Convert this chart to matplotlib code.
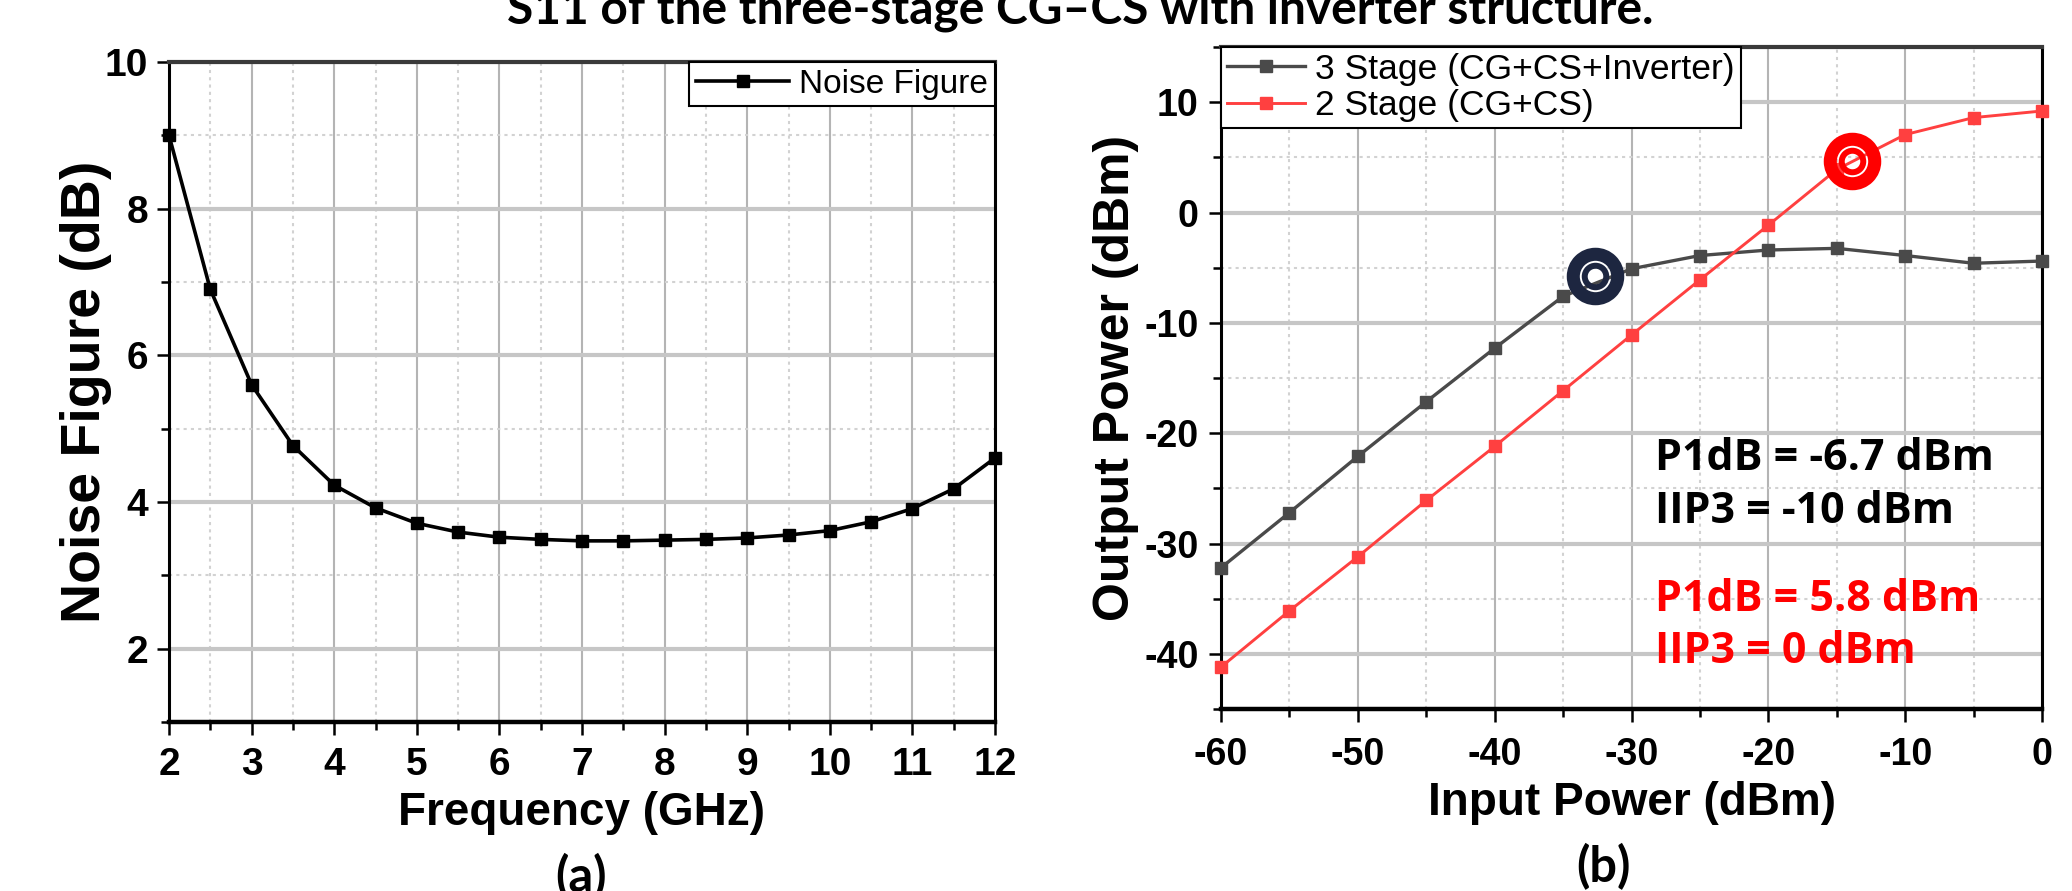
import matplotlib
matplotlib.use("Agg")
import matplotlib.pyplot as plt
from matplotlib.ticker import MultipleLocator

plt.rcParams["axes.unicode_minus"] = False

# ---------------- data ----------------
freq_ghz = [2, 2.5, 3, 3.5, 4, 4.5, 5, 5.5, 6, 6.5, 7, 7.5, 8, 8.5, 9, 9.5, 10, 10.5, 11, 11.5, 12]
noise_figure = [9.0, 6.9, 5.6, 4.77, 4.23, 3.92, 3.71, 3.59, 3.52, 3.49, 3.47, 3.47, 3.48, 3.49,
                3.51, 3.55, 3.61, 3.73, 3.91, 4.18, 4.60]

pin_dbm = [-60, -55, -50, -45, -40, -35, -30, -25, -20, -15, -10, -5, 0]
pout_3stage = [-32.2, -27.2, -22.1, -17.15, -12.3, -7.6, -5.1, -3.9, -3.4, -3.25, -3.9, -4.6, -4.4]
pout_2stage = [-41.2, -36.1, -31.2, -26.1, -21.2, -16.15, -11.1, -6.1, -1.15, 3.9, 7.06, 8.6, 9.2]

p1db_3stage = (-32.7, -5.8)
p1db_2stage = (-13.9, 4.7)

label_nf = "Noise Figure"
label_3 = "3 Stage (CG+CS+Inverter)"
label_2 = "2 Stage (CG+CS)"
ann_black = ["P1dB = -6.7 dBm", "IIP3 = -10 dBm"]
ann_red = ["P1dB = 5.8 dBm", "IIP3 = 0 dBm"]
title_text = "S11 of the three-stage CG\u2013CS with inverter structure."

# ---------------- style ----------------
W, H = 2072, 891
fig = plt.figure(figsize=(W / 100, H / 100), dpi=100)

FAM = ["Liberation Sans", "DejaVu Sans"]
BOLD = dict(family=FAM, weight="bold")

def style_axes(ax, tickfont):
    ax.set_axisbelow(True)
    ax.grid(which="major", axis="x", color="#b4b4b4", lw=1.5, ls="-")
    ax.grid(which="major", axis="y", color="#c6c6c6", lw=3.0, ls="-")
    ax.grid(which="minor", axis="both", color="#d2d2d2", lw=1.5, ls=(0, (1.5, 2.0)))
    for s in ax.spines.values():
        s.set_linewidth(2.2)
        s.set_color("black")
    ax.spines["bottom"].set_linewidth(3.2)
    ax.spines["top"].set_color("#3a3a3a")
    ax.spines["top"].set_linewidth(3.0)
    ax.tick_params(which="major", direction="out", length=9, width=1.8,
                   top=False, right=False)
    ax.tick_params(which="minor", direction="out", length=5.5, width=1.8,
                   top=False, right=False)
    for lab in ax.get_xticklabels() + ax.get_yticklabels():
        lab.set_fontfamily(FAM)
        lab.set_fontweight("bold")
        lab.set_fontsize(tickfont)

# ---------------- left panel ----------------
ax1 = fig.add_axes([169 / W, 1 - 722 / H, (995 - 169) / W, (722 - 62) / H])
ax1.plot(freq_ghz, noise_figure, color="black", lw=2.6, marker="s", ms=9,
         label=label_nf, zorder=3, clip_on=False)
ax1.set_xlim(2, 12)
ax1.set_ylim(1, 10)
ax1.xaxis.set_major_locator(MultipleLocator(1))
ax1.xaxis.set_minor_locator(MultipleLocator(0.5))
ax1.set_yticks([2, 4, 6, 8, 10])
ax1.yaxis.set_minor_locator(MultipleLocator(1))
style_axes(ax1, 28)
ax1.tick_params(axis="x", which="major", pad=9)
ax1.tick_params(axis="y", which="major", pad=6)
ax1.set_xlabel("Frequency (GHz)", fontsize=33, labelpad=6, **BOLD)
ax1.set_ylabel("Noise Figure (dB)", fontsize=40, labelpad=-5, **BOLD)
leg1 = ax1.legend(loc="upper right", borderaxespad=0, fancybox=False, framealpha=1,
                  edgecolor="black", prop=dict(family=FAM, size=24),
                  handlelength=2.8, handletextpad=0.3, borderpad=0.2)
leg1.get_frame().set_linewidth(1.5)

# ---------------- right panel ----------------
ax2 = fig.add_axes([1221 / W, 1 - 709 / H, (2042 - 1221) / W, (709 - 47) / H])
ax2.plot(pin_dbm, pout_3stage, color="#4a4a4a", lw=2.4, marker="s", ms=8,
         label=label_3, zorder=3, clip_on=False)
ax2.plot(pin_dbm, pout_2stage, color="#ff4040", lw=2.1, marker="s", ms=8,
         label=label_2, zorder=3, clip_on=False)
for (px, py), col in [(p1db_3stage, "#1d2640"), (p1db_2stage, "#ff0000")]:
    ax2.plot([px], [py], ls="none", marker="o", ms=32, mfc="none", mec=col, mew=9.4, zorder=4)
    ax2.plot([px], [py], ls="none", marker="o", ms=15.5, mfc="none", mec=col, mew=4.3, zorder=4)
ax2.set_xlim(-60, 0)
ax2.set_ylim(-45, 15)
ax2.xaxis.set_major_locator(MultipleLocator(10))
ax2.xaxis.set_minor_locator(MultipleLocator(5))
ax2.set_yticks([-40, -30, -20, -10, 0, 10])
ax2.yaxis.set_minor_locator(MultipleLocator(5))
style_axes(ax2, 27)
ax2.tick_params(axis="x", which="major", pad=11)
ax2.tick_params(axis="y", which="major", pad=7)
ax2.set_xlabel("Input Power (dBm)", fontsize=33, labelpad=6, **BOLD)
ax2.set_ylabel("Output Power (dBm)", fontsize=36, labelpad=4, **BOLD)
leg2 = ax2.legend(loc="upper left", borderaxespad=0, fancybox=False, framealpha=1,
                  edgecolor="black", prop=dict(family=FAM, size=25.5),
                  handlelength=2.2, handletextpad=0.3, borderpad=0.16, labelspacing=0.1)
leg2.get_frame().set_linewidth(1.5)

ANN = dict(family=["Open Sans", "DejaVu Sans"], weight="bold", fontsize=31,
           va="baseline", ha="left")
ann_x = -28.3
ax2.text(ann_x, -23.3, ann_black[0], color="black", **ANN)
ax2.text(ann_x, -28.1, ann_black[1], color="black", **ANN)
ax2.text(ann_x, -36.1, ann_red[0], color="#ff0000", **ANN)
ax2.text(ann_x, -40.8, ann_red[1], color="#ff0000", **ANN)

# ---------------- figure texts ----------------
CAP = dict(family=["Lato", "DejaVu Sans"], weight="bold")
fig.text(1080 / W, 1 - 24 / H, title_text, fontsize=34.5, ha="center", va="baseline", **CAP)
fig.text(581 / W, 1 - 877 / H, "(a)", fontsize=35, ha="center", va="center", **CAP)
fig.text(1603 / W, 1 - 867 / H, "(b)", fontsize=35, ha="center", va="center", **CAP)

fig.savefig("out.png", dpi=100)
